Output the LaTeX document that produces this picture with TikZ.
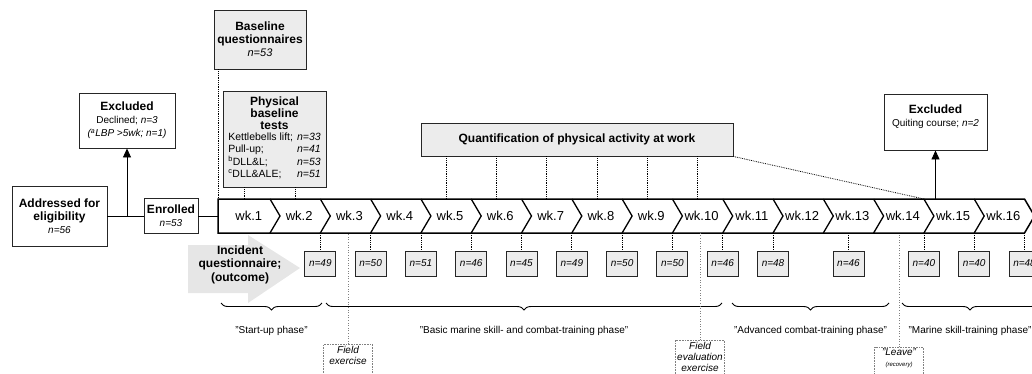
\documentclass[tikz,border=0pt]{standalone}
\usepackage{fontspec}
\setmainfont{Liberation Sans}
\usepackage{xcolor}
\usepackage{tikz}
\usetikzlibrary{calc}
\usetikzlibrary{arrows.meta,positioning,decorations.pathreplacing}
\definecolor{boxgray}{RGB}{236,236,236}
\definecolor{arrowgray}{RGB}{230,230,230}
\newcommand{\hdtxt}[1]{{\fontsize{12}{13.5}\selectfont\bfseries #1}}

\begin{document}
\begin{tikzpicture}[x=1pt,y=-1pt,
	whitebox/.style={draw=black!85,line width=0.9pt,align=center,inner sep=2pt,font=\fontsize{10}{13}\selectfont},
	graybox/.style={whitebox,fill=boxgray},
	nbox/.style={graybox,minimum width=31pt,minimum height=25pt,font=\fontsize{10}{12}\selectfont\itshape},
	notebox/.style={draw=gray,densely dotted,line width=0.6pt,align=center,anchor=north,minimum width=49pt,inner sep=1.5pt,font=\fontsize{10}{11}\selectfont\itshape},
	dotline/.style={densely dotted,line width=0.8pt},
	thindot/.style={dotted,gray,line width=0.6pt},
	wk/.style={font=\fontsize{13}{15}\selectfont},
	phase/.style={font=\fontsize{10}{12}\selectfont},
	phasebrace/.style={decorate,decoration={brace,mirror,amplitude=7pt},line width=0.9pt},
	flow/.style={line width=0.9pt},
	uparrow/.style={flow,-{Triangle[width=8pt,length=9pt]}}]
	\useasboundingbox (0,0) rectangle (1032,373);
	\clip (0,0) rectangle (1032,373);
	\coordinate (bandtop) at (218,199);
	\coordinate (bandbot) at (218,233);
	\draw[line width=1.5pt] (218,199) -- (1024.5,199) -- (1034.5,216) -- (1024.5,233) -- (218,233) -- cycle;
	\foreach \i in {1,...,16}{
		\pgfmathsetmacro\xr{270+(\i-1)*50.3}
		\pgfmathsetmacro\xl{\xr-50.3}
		\node[wk] (wk\i) at ({(\xl+\xr)/2+4},216) {wk.\i};
		\coordinate (t\i) at ({(\xl+\xr)/2},199);
		\coordinate (d\i) at (\xr,233);
	}
	\foreach \i in {1,...,15}
		\draw[line width=1.3pt] (d\i |- bandtop) -- ($(d\i)+(10,-17)$) -- (d\i);
	\coordinate (m13) at (848.45,233);
	\fill[arrowgray] (188,245) -- (248,245) -- (248,235) -- (300,268) -- (248,303) -- (248,293) -- (188,293) -- cycle;
	\node[align=center,font=\fontsize{12}{13.5}\selectfont\bfseries] (incident) at (240,264.5) {Incident\\questionnaire;\\(outcome)};
	\foreach \i/\val in {2/49,3/50,4/51,5/46,6/45,7/49,8/50,9/50,10/46,11/48,14/40,15/40,16/48}{
		\node[nbox] (n\i) at ($(d\i)+(0,30.5)$) {n=\val};
		\draw[dotline] (d\i) -- (n\i.north);
	}
	\node[nbox] (n13) at ($(m13)+(0,30.5)$) {n=46};
	\draw[dotline] (m13) -- (n13.north);
	\node[whitebox,minimum width=95pt,minimum height=60pt] (addr) at (59.5,216) {\hdtxt{Addressed for}\\ \hdtxt{eligibility}\\ \textit{n=56}};
	\node[whitebox,minimum width=54pt,minimum height=35pt] (enr) at (171,216) {\hdtxt{Enrolled}\\ \textit{n=53}};
	\node[whitebox,minimum width=96pt,minimum height=55pt] (excl1) at (127,120.5) {\hdtxt{Excluded}\\ Declined; \textit{n=3}\\ \textit{(\textsuperscript{a}LBP >5wk; n=1)}};
	\node[whitebox,minimum width=103pt,minimum height=56pt] (excl2) at (935.5,122) {\hdtxt{Excluded}\\ Quiting course; \textit{n=2}\\ \mbox{}};
	\draw[flow] (addr.east) -- (enr.west);
	\draw[uparrow] (excl1.south |- addr.east) -- (excl1.south);
	\draw[flow] (enr.east) -- (enr.east -| bandtop);
	\draw[uparrow] (excl2.south |- bandtop) -- (excl2.south);
	\node[graybox,minimum width=92pt,minimum height=59pt] (bq) at (260,39.5) {\hdtxt{Baseline}\\ \hdtxt{questionnaires}\\ {\fontsize{11}{13}\selectfont\itshape n=53}};
	\node[graybox,minimum width=103pt,minimum height=96pt,font=\fontsize{10.5}{12}\selectfont] (pbt) at (274.5,139) {\hdtxt{Physical}\\ \hdtxt{baseline}\\ \hdtxt{tests}\\[1pt]
		\begin{tabular}{@{}l@{\hspace{4pt}}r@{}}
			Kettlebells lift; & \textit{n=33}\\
			Pull-up; & \textit{n=41}\\
			\textsuperscript{b}DLL\&L; & \textit{n=53}\\
			\textsuperscript{c}DLL\&ALE; & \textit{n=51}
		\end{tabular}};
	\draw[dotline] (bandtop |- bq.south) -- (bandtop);
	\draw[dotline] (t1 |- pbt.south) -- (t1);
	\draw[dotline] (t2 |- pbt.south) -- (t2);
	\node[graybox,minimum width=312pt,minimum height=33pt,font=\fontsize{12}{13.5}\selectfont\bfseries] (quant) at (577,139.5) {Quantification of physical activity at work};
	\foreach \i in {5,...,10}
		\draw[dotline] (t\i |- quant.south) -- (t\i);
	\draw[dotline] (quant.south east) -- (d14 |- bandtop);
	\draw[phasebrace] (221,303) -- (322,303) node[phase,midway,below=19pt] (ph1) {"Start-up phase"};
	\draw[phasebrace] (326,303) -- (722,303) node[phase,midway,below=19pt] (ph2) {"Basic marine skill- and combat-training phase"};
	\draw[phasebrace] (732,303) -- (889,303) node[phase,midway,below=19pt] (ph3) {"Advanced combat-training phase"};
	\draw[phasebrace] (902,303) -- (1038,303) node[phase,midway,below=19pt] (ph4) {"Marine skill-training phase"};
	\node[notebox] (fex) at (348,344) {Field\\exercise\\ \mbox{}};
	\node[notebox] (fevx) at (700,340) {Field\\evaluation\\exercise\\ \mbox{}};
	\node[notebox] (lv) at (899,347) {"Leave"\\{\fontsize{6}{8}\selectfont (recovery)}\\ \mbox{}};
	\draw[thindot] (fex.north) -- (fex.north |- bandbot);
	\draw[thindot] (fevx.north) -- (fevx.north |- bandbot);
	\draw[thindot] (lv.north) -- (lv.north |- bandbot);
\end{tikzpicture}
\end{document}
